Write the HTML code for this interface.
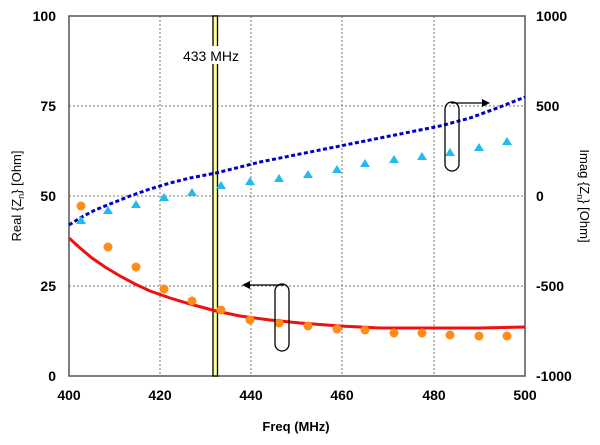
<!DOCTYPE html>
<html><head><style>body{margin:0;background:#fff}svg{display:block}</style></head><body>
<svg width="600" height="445" xmlns="http://www.w3.org/2000/svg" font-family="Liberation Sans, sans-serif">
<rect width="600" height="445" fill="#fff"/>
<g stroke="#777" stroke-width="1" stroke-dasharray="2,2">
<line x1="160" y1="16" x2="160" y2="376"/><line x1="251" y1="16" x2="251" y2="376"/>
<line x1="342" y1="16" x2="342" y2="376"/><line x1="434" y1="16" x2="434" y2="376"/>
<line x1="69" y1="106" x2="525" y2="106"/><line x1="69" y1="196" x2="525" y2="196"/><line x1="69" y1="286" x2="525" y2="286"/>
</g>
<rect x="69" y="16" width="456" height="360" fill="none" stroke="#555" stroke-width="1.5"/>
<rect x="213" y="16" width="4.5" height="360" fill="#ffff99" stroke="#000" stroke-width="1.3"/>
<rect x="176" y="46" width="70" height="18" fill="#fff"/>
<text x="211" y="61" font-size="14" text-anchor="middle">433 MHz</text>
<polyline fill="none" stroke="#0000cc" stroke-width="3" stroke-dasharray="4,2.5" points="69,225 80,218 95,210 110,204 130,196 150,189 170,183 190,178 216,173 240,167 260,162 290,156 320,150 350,144 380,138 410,132 440,126 470,118 500,107 525,97"/>
<polyline fill="none" stroke="#ee1111" stroke-width="3" points="69,238 80,248 92,258 105,267 120,276 135,284 150,291 170,298 190,304 216,311 240,316 270,320 300,323 340,326 380,328 420,328 480,328 525,327"/>
<g fill="#ff8c1a">
<circle cx="81" cy="206" r="4.5"/><circle cx="108" cy="247" r="4.5"/><circle cx="136" cy="267" r="4.5"/><circle cx="164" cy="289" r="4.5"/><circle cx="192" cy="301" r="4.5"/><circle cx="221" cy="310" r="4.5"/><circle cx="250" cy="320" r="4.5"/><circle cx="279" cy="323" r="4.5"/><circle cx="308" cy="326" r="4.5"/><circle cx="337" cy="329" r="4.5"/><circle cx="365" cy="330" r="4.5"/><circle cx="394" cy="333" r="4.5"/><circle cx="422" cy="333" r="4.5"/><circle cx="450" cy="335" r="4.5"/><circle cx="479" cy="336" r="4.5"/><circle cx="507" cy="336" r="4.5"/>
</g>
<g fill="#22bbee">
<path d="M81,216 l5,8 h-10z"/><path d="M108,206 l5,8 h-10z"/><path d="M136,200 l5,8 h-10z"/><path d="M164,193 l5,8 h-10z"/><path d="M192,188 l5,8 h-10z"/><path d="M221,181 l5,8 h-10z"/><path d="M250,177 l5,8 h-10z"/><path d="M279,174 l5,8 h-10z"/><path d="M308,170 l5,8 h-10z"/><path d="M337,165 l5,8 h-10z"/><path d="M365,159 l5,8 h-10z"/><path d="M394,155 l5,8 h-10z"/><path d="M422,152 l5,8 h-10z"/><path d="M450,148 l5,8 h-10z"/><path d="M479,143 l5,8 h-10z"/><path d="M507,137 l5,8 h-10z"/>
</g>
<g fill="none" stroke="#000" stroke-width="1.3">
<rect x="275" y="284" width="14" height="67" rx="7"/>
<line x1="284" y1="285" x2="246" y2="285"/>
<rect x="445" y="102" width="14" height="69" rx="7"/>
<line x1="451" y1="103" x2="486" y2="103"/>
</g>
<path d="M242,285 l8,-4 v8z M490,103 l-8,-4 v8z" fill="#000"/>
<g font-size="14" font-weight="bold" text-anchor="end">
<text x="56" y="21">100</text><text x="56" y="111">75</text><text x="56" y="201">50</text><text x="56" y="291">25</text><text x="56" y="381">0</text>
</g>
<g font-size="14" font-weight="bold" text-anchor="start">
<text x="536" y="21">1000</text><text x="536" y="111">500</text><text x="536" y="201">0</text><text x="536" y="291">-500</text><text x="536" y="381">-1000</text>
</g>
<g font-size="14" font-weight="bold" text-anchor="middle">
<text x="69" y="400">400</text><text x="160" y="400">420</text><text x="251" y="400">440</text><text x="342" y="400">460</text><text x="434" y="400">480</text><text x="525" y="400">500</text>
<text x="296" y="431" font-size="13">Freq (MHz)</text>
</g>
<text transform="translate(21,196) rotate(-90)" font-size="13" text-anchor="middle">Real {Z<tspan dy="3" font-size="9">n</tspan><tspan dy="-3">} [Ohm]</tspan></text>
<text transform="translate(580,196) rotate(90)" font-size="13" text-anchor="middle">Imag {Z<tspan dy="3" font-size="9">n</tspan><tspan dy="-3">} [Ohm]</tspan></text>
</svg>
</body></html>
